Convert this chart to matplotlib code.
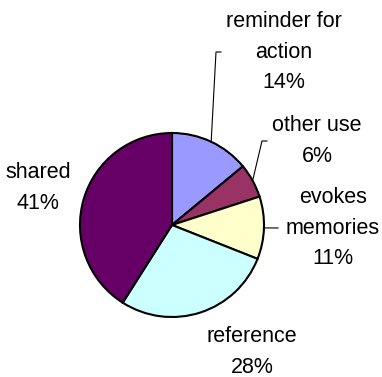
import numpy as np
import matplotlib
matplotlib.use("Agg")
import matplotlib.pyplot as plt

# datos del grafico de torta
labels = ["reminder for\naction", "other use", "evokes\nmemories", "reference", "shared"]
values = [14, 6, 11, 28, 41]
colors = ["#9999FF", "#993366", "#FFFFCC", "#CCFFFF", "#660066"]

W, H = 382, 377
fig = plt.figure(figsize=(W / 100, H / 100), dpi=100)
ax = fig.add_axes([0, 0, 1, 1])

cx, cy, r = 172, H - 225, 92
wedges, _ = ax.pie(values, colors=colors, startangle=90, counterclock=False,
                   center=(cx, cy), radius=r, frame=True,
                   wedgeprops=dict(edgecolor="black", linewidth=1.5))
ax.set_xlim(0, W)
ax.set_ylim(0, H)
ax.set_aspect("equal")
ax.axis("off")

# posicion de cada etiqueta (centro del bloque de texto) y codo de la linea guia
text_pos = [(284, 52), (317, 141), (333, 228), (252, 352), (38, 188)]
elbows = [[(216, 52), (221, 52)], [(262, 141), (267, 141)], [(278, 228)], None, None]

for w, lab, val, (tx, ty), elb in zip(wedges, labels, values, text_pos, elbows):
    ax.text(tx, H - ty, "%s\n%d%%" % (lab, val), ha="center", va="center",
            fontsize=15.5, family="Liberation Sans", linespacing=1.62)
    if elb is not None:
        ang = np.deg2rad((w.theta1 + w.theta2) / 2)
        px, py = cx + r * np.cos(ang), cy + r * np.sin(ang)
        xs = [px] + [e[0] for e in elb]
        ys = [py] + [H - e[1] for e in elb]
        ax.plot(xs, ys, color="black", linewidth=0.8)

fig.savefig("out.png", dpi=100)
